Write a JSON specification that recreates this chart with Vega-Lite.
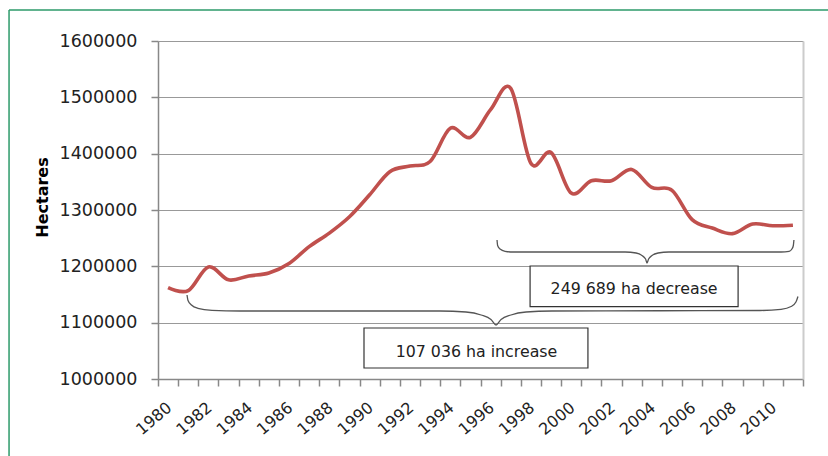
{
  "$schema": "https://vega.github.io/schema/vega-lite/v6.json",
  "width": 645,
  "height": 338,
  "autosize": {"type": "none"},
  "padding": {"left": 158, "top": 41, "right": 25, "bottom": 77},
  "background": "white",
  "config": {"view": {"stroke": null}, "font": "DejaVu Sans"},
  "datasets": {
    "series": [
      {"year": 1980, "value": 1162000},
      {"year": 1981, "value": 1157000},
      {"year": 1982, "value": 1199000},
      {"year": 1983, "value": 1176000},
      {"year": 1984, "value": 1183000},
      {"year": 1985, "value": 1188000},
      {"year": 1986, "value": 1205000},
      {"year": 1987, "value": 1235000},
      {"year": 1988, "value": 1259000},
      {"year": 1989, "value": 1288000},
      {"year": 1990, "value": 1327000},
      {"year": 1991, "value": 1368000},
      {"year": 1992, "value": 1378000},
      {"year": 1993, "value": 1386000},
      {"year": 1994, "value": 1445000},
      {"year": 1995, "value": 1429000},
      {"year": 1996, "value": 1478000},
      {"year": 1997, "value": 1516000},
      {"year": 1998, "value": 1383000},
      {"year": 1999, "value": 1402000},
      {"year": 2000, "value": 1330000},
      {"year": 2001, "value": 1352000},
      {"year": 2002, "value": 1352000},
      {"year": 2003, "value": 1372000},
      {"year": 2004, "value": 1340000},
      {"year": 2005, "value": 1335000},
      {"year": 2006, "value": 1283000},
      {"year": 2007, "value": 1268000},
      {"year": 2008, "value": 1258000},
      {"year": 2009, "value": 1275000},
      {"year": 2010, "value": 1272000},
      {"year": 2011, "value": 1273000}
    ],
    "braces": [
      {"brace": "decrease", "year": 1996.32, "value": 1246740},
      {"brace": "decrease", "year": 1996.35, "value": 1236980},
      {"brace": "decrease", "year": 1996.47, "value": 1230760},
      {"brace": "decrease", "year": 1996.72, "value": 1226680},
      {"brace": "decrease", "year": 1997.11, "value": 1225440},
      {"brace": "decrease", "year": 2002.67, "value": 1225440},
      {"brace": "decrease", "year": 2003.22, "value": 1223660},
      {"brace": "decrease", "year": 2003.51, "value": 1219220},
      {"brace": "decrease", "year": 2003.69, "value": 1213010},
      {"brace": "decrease", "year": 2003.76, "value": 1205910},
      {"brace": "decrease", "year": 2003.84, "value": 1213010},
      {"brace": "decrease", "year": 2004.01, "value": 1219220},
      {"brace": "decrease", "year": 2004.31, "value": 1223660},
      {"brace": "decrease", "year": 2004.85, "value": 1225440},
      {"brace": "decrease", "year": 2010.41, "value": 1225440},
      {"brace": "decrease", "year": 2010.81, "value": 1226680},
      {"brace": "decrease", "year": 2010.95, "value": 1230760},
      {"brace": "decrease", "year": 2011.02, "value": 1236980},
      {"brace": "decrease", "year": 2011.05, "value": 1246740},
      {"brace": "increase", "year": 1980.94, "value": 1149110},
      {"brace": "increase", "year": 1980.99, "value": 1139350},
      {"brace": "increase", "year": 1981.16, "value": 1131360},
      {"brace": "increase", "year": 1981.48, "value": 1125500},
      {"brace": "increase", "year": 1982.18, "value": 1121950},
      {"brace": "increase", "year": 1983.57, "value": 1120710},
      {"brace": "increase", "year": 1993.49, "value": 1120710},
      {"brace": "increase", "year": 1994.78, "value": 1118930},
      {"brace": "increase", "year": 1995.53, "value": 1113610},
      {"brace": "increase", "year": 1996.02, "value": 1105620},
      {"brace": "increase", "year": 1996.27, "value": 1095850},
      {"brace": "increase", "year": 1996.52, "value": 1105620},
      {"brace": "increase", "year": 1997.01, "value": 1113610},
      {"brace": "increase", "year": 1997.76, "value": 1118930},
      {"brace": "increase", "year": 1999.05, "value": 1120710},
      {"brace": "increase", "year": 2009.37, "value": 1121590},
      {"brace": "increase", "year": 2010.41, "value": 1123720},
      {"brace": "increase", "year": 2010.91, "value": 1128700},
      {"brace": "increase", "year": 2011.15, "value": 1136680},
      {"brace": "increase", "year": 2011.25, "value": 1146450}
    ],
    "boxes": [
      {"label": "249 689 ha decrease", "x1": 1997.96, "x2": 2008.28, "y1": 1200600, "y2": 1128340, "tx": 2003.12, "ty": 1160650},
      {"label": "107 036 ha increase", "x1": 1989.72, "x2": 2000.83, "y1": 1090530, "y2": 1019530, "tx": 1995.3, "ty": 1048800}
    ],
    "frame": [
      {"left": 1972.11, "right": 2014, "top": 1655000, "bottom": 840000}
    ]
  },
  "resolve": {"axis": {"x": "independent", "y": "independent"}},
  "layer": [
    {
      "data": {"name": "series"},
      "mark": {"type": "line", "color": "#c0504d", "strokeWidth": 3.6, "interpolate": "cardinal"},
      "encoding": {
        "x": {
          "field": "year", "type": "quantitative",
          "scale": {"domain": [1979.5, 2011.5], "nice": false, "zero": false},
          "axis": {
            "values": [1979.5, 1980.5, 1981.5, 1982.5, 1983.5, 1984.5, 1985.5, 1986.5, 1987.5, 1988.5, 1989.5, 1990.5, 1991.5, 1992.5, 1993.5, 1994.5, 1995.5, 1996.5, 1997.5, 1998.5, 1999.5, 2000.5, 2001.5, 2002.5, 2003.5, 2004.5, 2005.5, 2006.5, 2007.5, 2008.5, 2009.5, 2010.5, 2011.5],
            "labelExpr": "(datum.value + 0.5) % 2 == 0 && datum.value < 2011 ? '' + (datum.value + 0.5) : ''",
            "labelAngle": -40,
            "labelOffset": 6,
            "labelPadding": 13,
            "labelFontSize": 16,
            "labelColor": "#222",
            "labelOverlap": false,
            "labelBound": false,
            "labelFlush": false,
            "tickSize": 7,
            "tickColor": "#888",
            "tickWidth": 1.5,
            "domainColor": "#888",
            "domainWidth": 1.5,
            "grid": false,
            "title": null
          }
        },
        "y": {
          "field": "value", "type": "quantitative",
          "scale": {"domain": [1000000, 1600000], "nice": false, "zero": false},
          "axis": {
            "values": [1000000, 1100000, 1200000, 1300000, 1400000, 1500000, 1600000],
            "format": "d",
            "grid": true,
            "gridColor": "#999",
            "gridWidth": 1.2,
            "tickSize": 7,
            "tickColor": "#888",
            "tickWidth": 1.5,
            "domainColor": "#888",
            "domainWidth": 1.5,
            "labelPadding": 14,
            "labelFontSize": 17.5,
            "labelColor": "#222",
            "title": "Hectares",
            "titleFontSize": 16,
            "titleFontWeight": "bold",
            "titleColor": "#000",
            "titleAngle": -90,
            "titleAlign": "center",
            "titleBaseline": "middle",
            "titleX": -116,
            "titleY": 156
          }
        }
      }
    },
    {
      "data": {"name": "braces"},
      "mark": {"type": "line", "color": "#555", "strokeWidth": 1.3, "interpolate": "monotone"},
      "encoding": {
        "x": {"field": "year", "type": "quantitative", "axis": null},
        "y": {"field": "value", "type": "quantitative", "axis": null},
        "detail": {"field": "brace"}
      }
    },
    {
      "data": {"name": "boxes"},
      "mark": {"type": "rect", "fill": "white", "stroke": "#333", "strokeWidth": 1.2},
      "encoding": {
        "x": {"field": "x1", "type": "quantitative", "axis": null},
        "x2": {"field": "x2"},
        "y": {"field": "y1", "type": "quantitative",
          "axis": {"orient": "right", "labels": false, "ticks": false, "grid": false, "domainColor": "#ccc", "domainWidth": 2, "title": null}},
        "y2": {"field": "y2"}
      }
    },
    {
      "data": {"name": "boxes"},
      "mark": {"type": "text", "fontSize": 15.8, "color": "#222", "align": "center", "baseline": "middle"},
      "encoding": {
        "x": {"field": "tx", "type": "quantitative", "axis": null},
        "y": {"field": "ty", "type": "quantitative", "axis": null},
        "text": {"field": "label"}
      }
    },
    {
      "data": {"name": "frame"},
      "mark": {"type": "rule", "color": "#2d9a6a", "strokeWidth": 1.5, "clip": false},
      "encoding": {
        "x": {"field": "left", "type": "quantitative", "axis": null},
        "y": {"field": "top", "type": "quantitative", "axis": null},
        "y2": {"field": "bottom"}
      }
    },
    {
      "data": {"name": "frame"},
      "mark": {"type": "rule", "color": "#2d9a6a", "strokeWidth": 1.5, "clip": false},
      "encoding": {
        "x": {"field": "left", "type": "quantitative", "axis": null},
        "x2": {"field": "right"},
        "y": {"field": "top", "type": "quantitative", "axis": null}
      }
    }
  ]
}
